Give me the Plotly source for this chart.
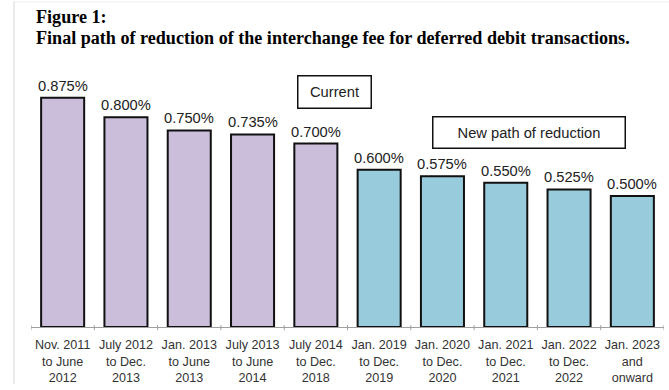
import plotly.graph_objects as go

# Interchange fee schedule for deferred debit transactions
periods = [
    "Nov. 2011<br>to June<br>2012",
    "July 2012<br>to Dec.<br>2013",
    "Jan. 2013<br>to June<br>2013",
    "July 2013<br>to June<br>2014",
    "July 2014<br>to Dec.<br>2018",
    "Jan. 2019<br>to Dec.<br>2019",
    "Jan. 2020<br>to Dec.<br>2020",
    "Jan. 2021<br>to Dec.<br>2021",
    "Jan. 2022<br>to Dec.<br>2022",
    "Jan. 2023<br>and<br>onward",
]
fee_pct = [0.875, 0.800, 0.750, 0.735, 0.700, 0.600, 0.575, 0.550, 0.525, 0.500]
phase = ["current"] * 5 + ["new"] * 5

PURPLE = "#CBBEDA"
BLUE = "#98CBDC"
colors = [PURPLE if p == "current" else BLUE for p in phase]

W, H = 669, 390
ML, MR, MT, MB = 31, 5, 60, 59
plot_h = H - MT - MB
y_top = plot_h / 266.0  # ~266 px per percentage point


def py_to_paper(py):
    return (H - MB - py) / plot_h


def px_to_paper(px):
    return (px - ML) / (W - ML - MR)


xs = list(range(len(periods)))
SANS = "Liberation Sans, Arial"
SERIF = "Liberation Serif, Times New Roman"

fig = go.Figure()
fig.add_trace(go.Bar(
    x=xs,
    y=fee_pct,
    marker=dict(color=colors, line=dict(color="#111111", width=2)),
    width=0.68,
    hoverinfo="skip",
))

annotations = [
    dict(text="<b>Figure 1:</b>", xref="paper", yref="paper",
         x=px_to_paper(34), y=py_to_paper(16), xanchor="left", yanchor="middle",
         showarrow=False, font=dict(family=SERIF, size=18.1, color="#000000")),
    dict(text="<b>Final path of reduction of the interchange fee for deferred debit transactions.</b>",
         xref="paper", yref="paper",
         x=px_to_paper(34), y=py_to_paper(38), xanchor="left", yanchor="middle",
         showarrow=False, font=dict(family=SERIF, size=18.1, color="#000000")),
    dict(text="Current", xref="paper", yref="paper",
         x=px_to_paper(334.5), y=py_to_paper(92), xanchor="center", yanchor="middle",
         showarrow=False, width=72, height=31, borderpad=0,
         bordercolor="#111111", borderwidth=1.5, bgcolor="#ffffff",
         font=dict(family=SANS, size=14.7, color="#222222")),
    dict(text="New path of reduction", xref="paper", yref="paper",
         x=px_to_paper(528.5), y=py_to_paper(133.5), xanchor="center", yanchor="middle",
         showarrow=False, width=191, height=30, borderpad=0,
         bordercolor="#111111", borderwidth=1.5, bgcolor="#ffffff",
         font=dict(family=SANS, size=14.7, color="#222222")),
]

# value labels above each bar
for x, v in zip(xs, fee_pct):
    annotations.append(dict(
        x=x, y=v, xref="x", yref="y", text=f"{v:.3f}%",
        xanchor="center", yanchor="bottom", yshift=2, showarrow=False,
        font=dict(family=SANS, size=14.7, color="#222222"),
    ))

fig.update_layout(
    width=W, height=H,
    margin=dict(l=ML, r=MR, t=MT, b=MB),
    paper_bgcolor="#ffffff", plot_bgcolor="#ffffff",
    showlegend=False,
    annotations=annotations,
    shapes=[
        dict(type="line", xref="paper", yref="paper",
             x0=px_to_paper(14), x1=px_to_paper(14), y0=py_to_paper(1), y1=py_to_paper(389),
             line=dict(color="#e3e3e3", width=1.5)),
        dict(type="line", xref="paper", yref="paper",
             x0=px_to_paper(14), x1=px_to_paper(669), y0=py_to_paper(1), y1=py_to_paper(1),
             line=dict(color="#eeeeee", width=1)),
    ],
    xaxis=dict(
        tickmode="array", tickvals=xs, ticktext=periods,
        range=[-0.5, len(periods) - 0.5],
        showline=True, linecolor="#a0a0a0", linewidth=1,
        ticks="", showgrid=False, zeroline=False,
        ticklabelstandoff=6,
        tickfont=dict(family=SANS, size=12.6, color="#333333"),
    ),
    yaxis=dict(range=[0, y_top], visible=False, showgrid=False, zeroline=False),
)

# small boundary ticks between categories
for b in [i - 0.5 for i in range(len(periods) + 1)]:
    fig.add_shape(type="line", xref="x", yref="paper", x0=b, x1=b,
                  y0=-0.012, y1=0.007, line=dict(color="#a0a0a0", width=1))

fig.write_html("out.html")
